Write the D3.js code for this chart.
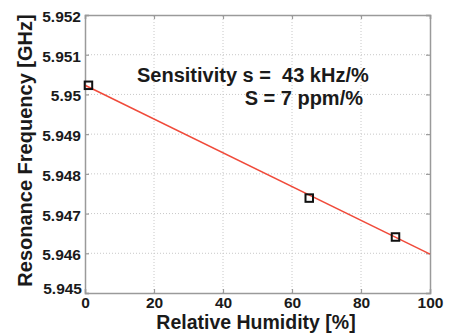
<!DOCTYPE html>
<html><head><meta charset="utf-8">
<script src="https://cdn.jsdelivr.net/npm/d3@7"></script>
<style>body{margin:0;background:#fff}svg{display:block}text{font-family:"Liberation Sans",Arial,sans-serif;font-weight:bold;fill:#1a1a1a;white-space:pre}</style>
</head><body><svg id="c" width="456" height="333"></svg>
<script>
const humidity = [1, 65, 90];
const frequency = [5.95023, 5.94739, 5.94641];
const fitX = [0, 100];
const fitY = [5.95023, 5.94598];
const xTicks = [0, 20, 40, 60, 80, 100];
const yTicks = [5.945, 5.946, 5.947, 5.948, 5.949, 5.95, 5.951, 5.952];
const yTickLabels = ["5.945","5.946","5.947","5.948","5.949","5.95","5.951","5.952"];
const annot1 = "Sensitivity s =  43 kHz/%";
const annot2 = "S = 7 ppm/%";

const W = 456, H = 333, m = {l:85, r:26, t:15, b:40};
const svg = d3.select("#c");
const x = d3.scaleLinear().domain([0,100]).range([m.l, W-m.r]);
const y = d3.scaleLinear().domain([5.945,5.952]).range([H-m.b, m.t]);
const gray = "#9a9a9a";

// grid
svg.append("g").selectAll("line").data(xTicks.slice(1,-1)).join("line")
  .attr("x1",d=>x(d)).attr("x2",d=>x(d)).attr("y1",y(5.945)).attr("y2",y(5.952))
  .attr("stroke","#c8c8c8").attr("stroke-dasharray","1,2");
svg.append("g").selectAll("line").data(yTicks.slice(1,-1)).join("line")
  .attr("y1",d=>y(d)).attr("y2",d=>y(d)).attr("x1",x(0)).attr("x2",x(100))
  .attr("stroke","#c8c8c8").attr("stroke-dasharray","1,2");

// axes
const xa = svg.append("g").attr("transform",`translate(0,${y(5.945)})`)
  .call(d3.axisBottom(x).tickValues(xTicks).tickSize(-4).tickPadding(4).tickFormat(d3.format("d")));
const xt = svg.append("g").attr("transform",`translate(0,${y(5.952)})`)
  .call(d3.axisTop(x).tickValues(xTicks).tickSize(-4).tickFormat(""));
const ya = svg.append("g").attr("transform",`translate(${x(0)},0)`)
  .call(d3.axisLeft(y).tickValues(yTicks).tickSize(-4).tickPadding(4).tickFormat((d,i)=>yTickLabels[i]));
const yr = svg.append("g").attr("transform",`translate(${x(100)},0)`)
  .call(d3.axisRight(y).tickValues(yTicks).tickSize(-4).tickFormat(""));
[xa,xt,ya,yr].forEach(g=>{
  g.selectAll(".domain").attr("stroke",gray).attr("stroke-width",1.5);
  g.selectAll(".tick line").attr("stroke",gray).attr("stroke-width",1.2);
  g.selectAll("text").attr("font-size",15.5).attr("font-family",'"Liberation Sans",Arial,sans-serif').attr("font-weight","bold").attr("fill","#1a1a1a");
});
ya.selectAll(".tick text").attr("dy","0.42em");
ya.select(".tick text").attr("dy","0.05em").attr("x",-3);

// fit line
svg.append("path").datum(fitX.map((d,i)=>[d,fitY[i]]))
  .attr("d",d3.line().x(d=>x(d[0])).y(d=>y(d[1])))
  .attr("fill","none").attr("stroke","#f04a3a").attr("stroke-width",1.5);

// markers
svg.append("g").selectAll("rect").data(humidity.map((d,i)=>[d,frequency[i]])).join("rect")
  .attr("x",d=>x(d[0])-3.75).attr("y",d=>y(d[1])-3.75).attr("width",7.5).attr("height",7.5)
  .attr("fill","none").attr("stroke","#111").attr("stroke-width",2);

// annotations
svg.append("text").attr("x",137).attr("y",82).attr("font-size",20).text(annot1);
svg.append("text").attr("x",363).attr("y",105).attr("text-anchor","end").attr("font-size",20).text(annot2);

// axis labels
svg.append("text").attr("x",256).attr("y",329).attr("text-anchor","middle").attr("font-size",19.5).text("Relative Humidity [%]");
svg.append("text").attr("transform",`translate(32,${(13+288)/2}) rotate(-90)`).attr("text-anchor","middle").attr("font-size",20).text("Resonance Frequency [GHz]");
</script></body></html>
